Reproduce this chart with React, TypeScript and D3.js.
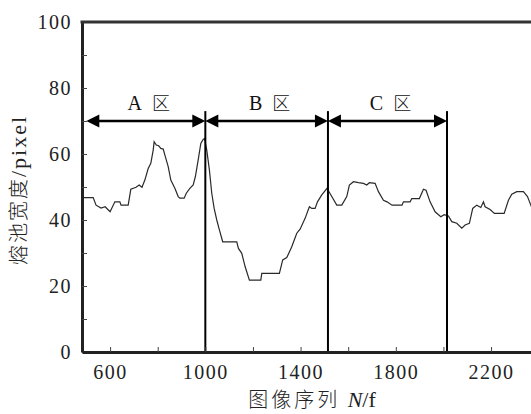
import React, { useRef, useEffect } from 'react';
import * as d3 from 'd3';

// frame index / melt pool width (pixel)
const frames = [
  482, 529, 541, 562, 579, 600, 620, 641, 646, 676, 687, 709, 722, 734, 746, 760, 771, 781, 785, 794,
  804, 813, 823, 832, 844, 855, 872, 886, 893, 911, 920, 935, 949, 958, 970, 981, 991, 997, 1006, 1017,
  1027, 1037, 1048, 1059, 1073, 1132, 1139, 1153, 1167, 1185, 1233, 1237, 1311, 1325, 1342, 1363, 1384, 1398, 1419, 1437,
  1447, 1461, 1471, 1489, 1511, 1531, 1552, 1573, 1594, 1605, 1622, 1643, 1664, 1678, 1689, 1713, 1727, 1748, 1763, 1784,
  1826, 1832, 1860, 1867, 1899, 1916, 1927, 1944, 1965, 1989, 2003, 2021, 2035, 2056, 2077, 2091, 2109, 2123, 2140, 2157,
  2168, 2175, 2196, 2214, 2255, 2273, 2287, 2308, 2336, 2353, 2367, 2380
];
const widths = [
  46.8, 46.8, 44.5, 43.6, 44.0, 42.5, 45.5, 45.5, 44.5, 44.5, 49.3, 49.9, 50.6, 49.9, 52.1, 55.6, 57.2, 61.2, 63.7, 62.7,
  62.5, 61.7, 61.5, 59.2, 56.2, 52.1, 49.6, 47.1, 46.6, 46.6, 48.1, 49.6, 50.6, 53.1, 58.2, 63.2, 64.4, 64.7, 61.2, 55.2,
  48.1, 43.5, 40.0, 37.0, 33.4, 33.4, 31.4, 29.9, 25.9, 21.8, 21.8, 23.8, 23.8, 27.9, 28.6, 31.9, 36.0, 37.2, 40.5, 44.0,
  43.5, 43.5, 45.5, 47.6, 49.6, 47.1, 44.5, 44.5, 47.1, 50.6, 51.6, 51.3, 51.1, 50.6, 51.3, 51.1, 48.6, 46.0, 45.5, 44.5,
  44.5, 45.5, 45.5, 46.5, 46.5, 49.3, 49.0, 45.5, 42.5, 41.0, 41.6, 41.2, 39.5, 39.0, 37.5, 38.5, 39.0, 43.5, 44.5, 43.8,
  45.5, 44.0, 43.2, 42.0, 42.0, 46.0, 47.8, 48.6, 48.6, 47.1, 44.5, 42.0
];

const zoneNames = ['A', 'B', 'C'];
const zoneStarts = [500, 1000, 1515];
const zoneEnds = [1000, 1515, 2015];
const zoneLines = [1000, 1515, 2015];
const arrowLevel = 70;
const zoneLineTop = 73;
const zoneLabelLevel = 73.3;

const xTicks = [600, 800, 1000, 1200, 1400, 1600, 1800, 2000, 2200, 2400];
const xLabels = [600, 1000, 1400, 1800, 2200];
const yTicks = [0, 10, 20, 30, 40, 50, 60, 70, 80, 90, 100];
const yLabels = [0, 20, 40, 60, 80, 100];

const App = () => {
  const svgRef = useRef(null);

  useEffect(() => {
    const W = 531;
    const H = 414;
    const svg = d3.select(svgRef.current);
    svg.selectAll('*').remove();

    const x = d3.scaleLinear().domain([482, 2420]).range([82, 82 + 1938 * 0.2381]);
    const y = d3.scaleLinear().domain([0, 100]).range([352, 22]);
    const serif = '"Liberation Serif", serif';
    const cjk = '"Noto Sans CJK SC", sans-serif';

    svg.append('defs').append('clipPath').attr('id', 'plot-clip')
      .append('rect')
      .attr('x', x(482)).attr('y', y(100))
      .attr('width', W - x(482)).attr('height', y(0) - y(100));

    // data line
    const pts = frames.map((f, i) => [f, widths[i]]);
    const line = d3.line().x((d) => x(d[0])).y((d) => y(d[1]));
    svg.append('path')
      .datum(pts)
      .attr('clip-path', 'url(#plot-clip)')
      .attr('fill', 'none')
      .attr('stroke', '#2a2a2a')
      .attr('stroke-width', 1.2)
      .attr('d', line);

    // zone separators
    svg.selectAll('.zone-line')
      .data(zoneLines)
      .enter()
      .append('line')
      .attr('x1', (d) => x(d)).attr('x2', (d) => x(d))
      .attr('y1', y(zoneLineTop)).attr('y2', y(0))
      .attr('stroke', '#000')
      .attr('stroke-width', 2);

    // double arrows
    const ay = y(arrowLevel);
    const headLen = 13;
    const headHalf = 6.5;
    zoneNames.forEach((name, i) => {
      const x0 = x(zoneStarts[i]);
      const x1 = x(zoneEnds[i]);
      svg.append('line')
        .attr('x1', x0 + headLen - 1).attr('x2', x1 - headLen + 1)
        .attr('y1', ay).attr('y2', ay)
        .attr('stroke', '#000').attr('stroke-width', 2.5);
      svg.append('path')
        .attr('d', `M${x0},${ay}L${x0 + headLen},${ay - headHalf}L${x0 + headLen},${ay + headHalf}Z`)
        .attr('fill', '#000');
      svg.append('path')
        .attr('d', `M${x1},${ay}L${x1 - headLen},${ay - headHalf}L${x1 - headLen},${ay + headHalf}Z`)
        .attr('fill', '#000');

      const t = svg.append('text')
        .attr('x', x((zoneStarts[i] + zoneEnds[i]) / 2) + 3)
        .attr('y', y(zoneLabelLevel))
        .attr('text-anchor', 'middle')
        .attr('font-size', 20)
        .attr('fill', '#111');
      t.append('tspan').attr('font-family', serif).text(name + '\u00a0\u00a0');
      t.append('tspan').attr('font-family', cjk).attr('font-size', 18).attr('font-weight', 300).text('区');
    });

    // y axis
    const yAxis = d3.axisLeft(y)
      .tickValues(yTicks)
      .tickSizeInner(-5)
      .tickSizeOuter(0)
      .tickPadding(10)
      .tickFormat((d) => (yLabels.includes(d) ? String(d) : ''));
    const gy = svg.append('g').attr('transform', `translate(${x(482)},0)`).call(yAxis);
    gy.select('.domain').attr('stroke', '#222').attr('stroke-width', 3);
    gy.selectAll('.tick line').attr('stroke', '#444').attr('stroke-width', 1);
    gy.selectAll('text').attr('font-family', serif).attr('font-size', 20)
      .attr('letter-spacing', 1.5).attr('fill', '#222');

    // x axis
    const xAxis = d3.axisBottom(x)
      .tickValues(xTicks)
      .tickSizeInner(-5)
      .tickSizeOuter(0)
      .tickPadding(13)
      .tickFormat((d) => (xLabels.includes(d) ? String(d) : ''));
    const gx = svg.append('g').attr('transform', `translate(0,${y(0)})`).call(xAxis);
    gx.select('.domain').attr('stroke', '#222').attr('stroke-width', 3);
    gx.selectAll('.tick line').attr('stroke', '#444').attr('stroke-width', 1);
    gx.selectAll('text').attr('font-family', serif).attr('font-size', 20)
      .attr('letter-spacing', 1.5).attr('fill', '#222');

    // top frame
    svg.append('line')
      .attr('x1', x(482) - 1.5).attr('x2', W)
      .attr('y1', y(100)).attr('y2', y(100))
      .attr('stroke', '#333').attr('stroke-width', 3);

    // axis titles
    const xt = svg.append('text')
      .attr('x', 312).attr('y', 407)
      .attr('text-anchor', 'middle')
      .attr('font-size', 20)
      .attr('fill', '#222');
    xt.append('tspan').attr('font-family', cjk).attr('font-weight', 300).attr('letter-spacing', 3).text('图像序列\u00a0');
    xt.append('tspan').attr('font-family', serif).attr('font-style', 'italic').attr('font-size', 22).text('N');
    xt.append('tspan').attr('font-family', serif).attr('font-size', 22).text('/f');

    const yt = svg.append('text')
      .attr('transform', `translate(26,190) rotate(-90)`)
      .attr('text-anchor', 'middle')
      .attr('font-size', 20)
      .attr('fill', '#222');
    yt.append('tspan').attr('font-family', cjk).attr('font-weight', 300).attr('letter-spacing', 2).text('熔池宽度');
    yt.append('tspan').attr('font-family', serif).attr('font-size', 22).attr('letter-spacing', 2).text('/pixel');

    svg.attr('width', W).attr('height', H);
  }, []);

  return (
    <svg
      ref={svgRef}
      width={531}
      height={414}
      style={{ position: 'absolute', left: 0, top: 0, background: '#fff' }}
    />
  );
};

export default App;
